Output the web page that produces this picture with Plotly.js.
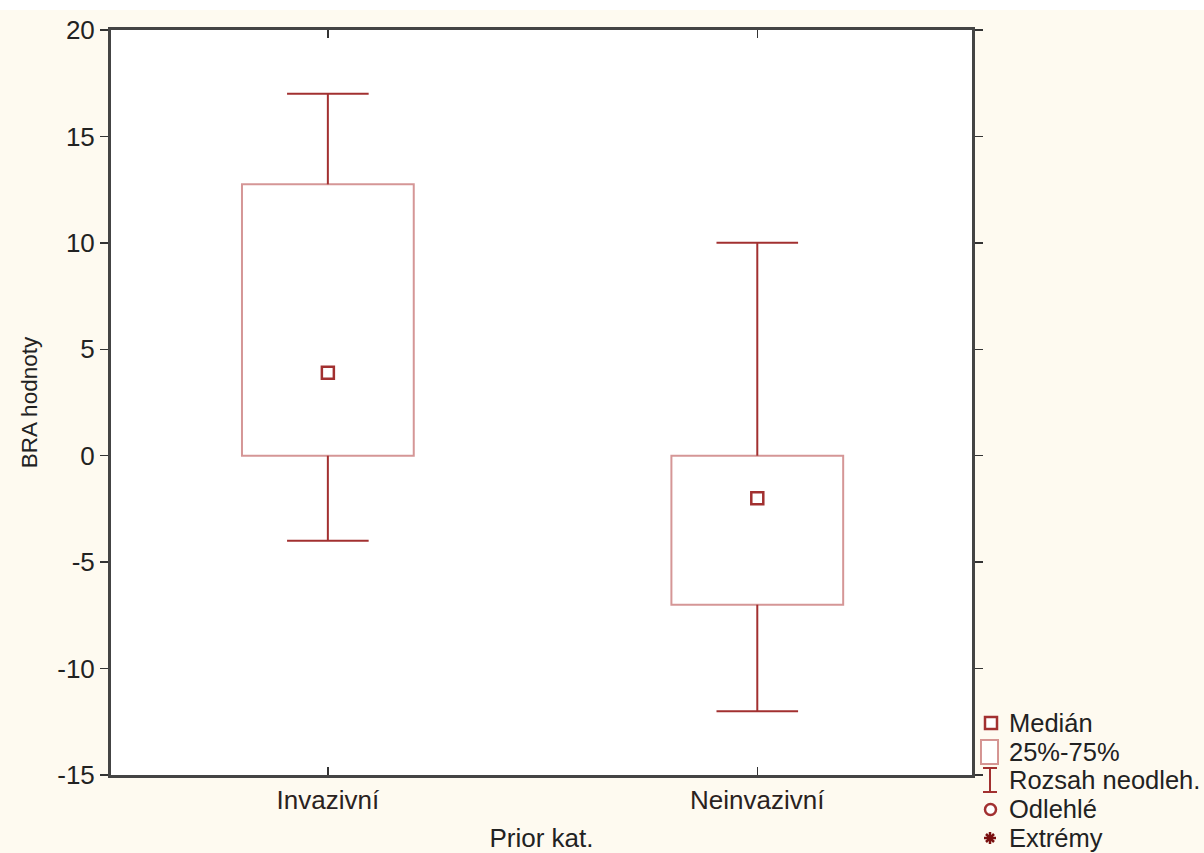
<!DOCTYPE html>
<html>
<head>
<meta charset="utf-8">
<script src="https://cdn.plot.ly/plotly-3.0.1.min.js"></script>
<style>html,body{margin:0;padding:0;background:#ffffff;}#chart{width:1204px;height:843px;margin-top:10px;}</style>
</head>
<body>
<div id="chart"></div>
<script>
// ---- data ----
var categories = ['Invazivní', 'Neinvazivní'];
var mins    = [-4, -12];
var q1      = [0, -7];
var medians = [3.9, -2];
var q3      = [12.75, 0];
var maxs    = [17, 10];
var legendLabels = ['Medián', '25%-75%', 'Rozsah neodleh.', 'Odlehlé', 'Extrémy'];
var yTicks = [-15, -10, -5, 0, 5, 10, 15, 20];
var yTickText = ['-15', '-10', '-5', '0', '5', '10', '15', '20'];

// ---- styles ----
var darkRed = '#a23030';
var paleRed = 'rgba(185,80,80,0.6)';
var capHalf = 0.095;
var boxWidth = 0.4;
var idx = categories.map(function(_, i){ return i; });

// whiskers
var wx = [], wy = [];
idx.forEach(function(i){
  wx.push(i, i, null, i, i, null, i - capHalf, i + capHalf, null, i - capHalf, i + capHalf, null);
  wy.push(q3[i], maxs[i], null, mins[i], q1[i], null, maxs[i], maxs[i], null, mins[i], mins[i], null);
});

var traces = [
  {
    type: 'bar', x: idx, base: q1,
    y: idx.map(function(i){ return q3[i] - q1[i]; }),
    width: boxWidth,
    marker: {color: '#ffffff', line: {color: paleRed, width: 2}},
    hoverinfo: 'skip', showlegend: false
  },
  {
    type: 'scatter', mode: 'lines', x: wx, y: wy,
    line: {color: darkRed, width: 2}, hoverinfo: 'skip', showlegend: false
  },
  {
    type: 'scatter', mode: 'markers', x: idx, y: medians,
    marker: {symbol: 'square-open', size: 12, color: darkRed, line: {width: 2.5, color: darkRed}},
    showlegend: false
  }
];

// ---- custom legend (paper coords from pixel positions in the 853px page) ----
var OFF = 10;
var L = 111, R = 972, T = 30, B = 775;
function px(x){ return (x - L) / (R - L); }
function py(y){ return (B - y) / (B - T); }

var fam = 'Liberation Sans, Arial, sans-serif';
var legendY = [723, 752, 780, 809, 838];
var annotations = legendLabels.map(function(t, k){
  return {text: t, xref: 'paper', yref: 'paper', x: px(1007), y: py(legendY[k]),
          xanchor: 'left', yanchor: 'middle', showarrow: false,
          font: {family: fam, size: 25.5, color: '#222'}};
});

function rect(x0, y0, x1, y1, col, w){
  return {type: 'rect', xref: 'paper', yref: 'paper', x0: px(x0), x1: px(x1), y0: py(y1), y1: py(y0),
          line: {color: col, width: w}, fillcolor: '#ffffff'};
}
function seg(x0, y0, x1, y1, col, w){
  return {type: 'line', xref: 'paper', yref: 'paper', x0: px(x0), x1: px(x1), y0: py(y0), y1: py(y1),
          line: {color: col, width: w}};
}
var shapes = [
  rect(985, 717, 997, 729, darkRed, 2.5),
  rect(981, 740, 998, 764, paleRed, 2),
  seg(990, 768, 990, 792, darkRed, 2),
  seg(983, 768, 997, 768, darkRed, 2),
  seg(983, 792, 997, 792, darkRed, 2),
  {type: 'circle', xref: 'paper', yref: 'paper', x0: px(985), x1: px(996), y0: py(815), y1: py(804),
   line: {color: darkRed, width: 2.5}, fillcolor: '#ffffff'},
  seg(984, 838, 996, 838, '#7a1010', 2.5),
  seg(990, 832, 990, 844, '#7a1010', 2.5),
  seg(986, 834, 994, 842, '#7a1010', 2.5),
  seg(986, 842, 994, 834, '#7a1010', 2.5)
];

var layout = {
  width: 1204, height: 853 - OFF,
  margin: {l: L, r: 1204 - R, t: T - OFF, b: 853 - B},
  paper_bgcolor: '#fefaf0', plot_bgcolor: '#ffffff',
  font: {family: fam, size: 26, color: '#222'},
  showlegend: false,
  xaxis: {
    range: [-0.505, 1.5], tickvals: idx, ticktext: categories,
    ticks: 'inside', ticklen: 8, tickwidth: 1.5, tickcolor: '#333',
    showline: true, linecolor: '#444', linewidth: 3, mirror: 'ticks',
    showgrid: false, zeroline: false, fixedrange: true,
    tickfont: {family: fam, size: 26, color: '#2a2220'},
    title: {text: 'Prior kat.', font: {family: fam, size: 26, color: '#222'}, standoff: 18}
  },
  yaxis: {
    range: [-15, 20], tickvals: yTicks, ticktext: yTickText,
    ticks: 'outside', ticklen: 8, tickwidth: 1.5, tickcolor: '#333',
    showline: true, linecolor: '#444', linewidth: 3, mirror: 'ticks',
    showgrid: false, zeroline: false, fixedrange: true,
    tickfont: {family: fam, size: 26, color: '#222'},
    title: {text: 'BRA hodnoty', font: {family: fam, size: 22.5, color: '#222'}, standoff: 14}
  },
  annotations: annotations,
  shapes: shapes
};

Plotly.newPlot('chart', traces, layout, {displayModeBar: false, staticPlot: true});
</script>
</body>
</html>
